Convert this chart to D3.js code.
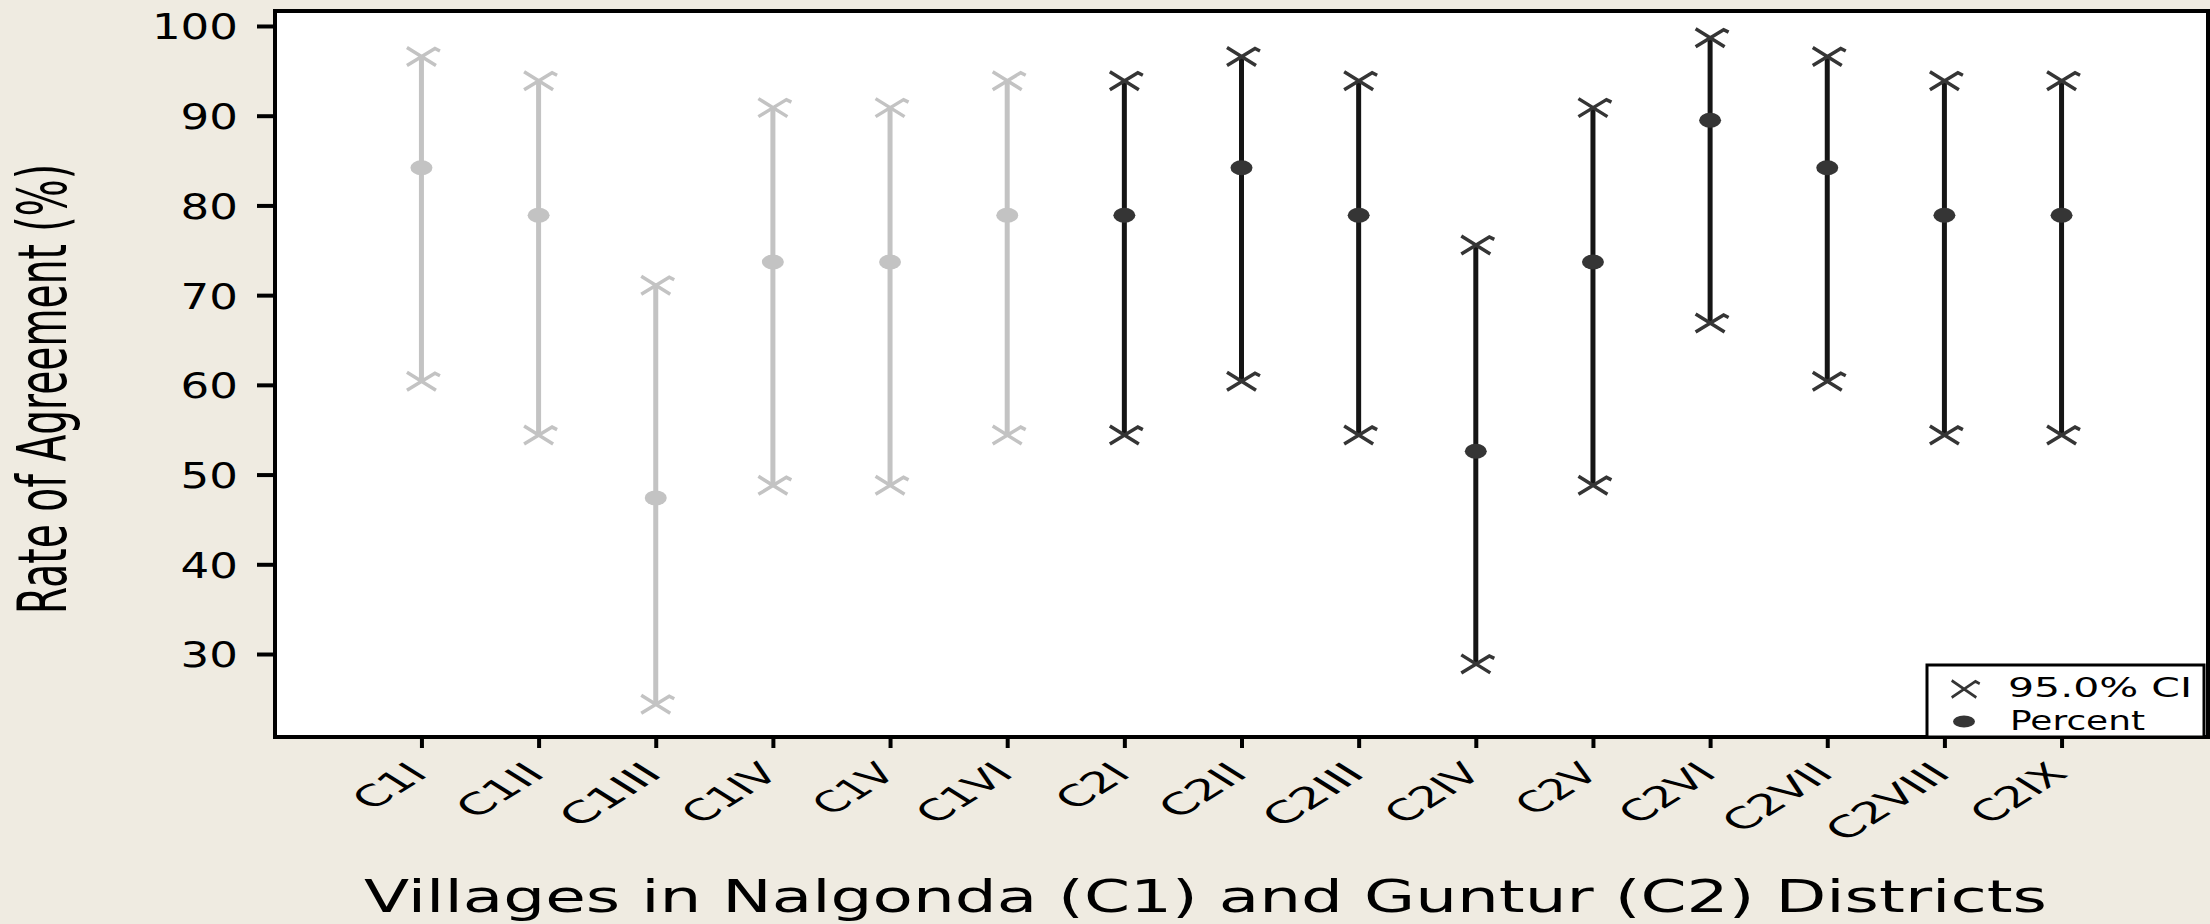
<!DOCTYPE html>
<html>
<head>
<meta charset="utf-8">
<script src="https://cdn.jsdelivr.net/npm/d3@7"></script>
<style>
    body { margin: 0; background: #efebe1; }
    svg { display: block; }
    text { font-family: 'DejaVu Sans', Verdana, sans-serif; fill: #000; }
</style>
</head>
<body>
<div id="chart-holder"></div>
<script>
// Interval plot - rate of agreement per village

var villages = ['C1I','C1II','C1III','C1IV','C1V','C1VI','C2I','C2II','C2III','C2IV','C2V','C2VI','C2VII','C2VIII','C2IX'];
var districts = ['C1','C1','C1','C1','C1','C1','C2','C2','C2','C2','C2','C2','C2','C2','C2'];
var percent = [84.2, 78.9, 47.4, 73.7, 73.7, 78.9, 78.9, 84.2, 78.9, 52.6, 73.7, 89.5, 84.2, 78.9, 78.9];
var ciLow = [60.4, 54.4, 24.4, 48.8, 48.8, 54.4, 54.4, 60.4, 54.4, 28.9, 48.8, 66.9, 60.4, 54.4, 54.4];
var ciHigh = [96.6, 93.9, 71.1, 90.9, 90.9, 93.9, 93.9, 96.6, 93.9, 75.6, 90.9, 98.7, 96.6, 93.9, 93.9];
var yTicks = [30, 40, 50, 60, 70, 80, 90, 100];
var legendLabels = ['95.0% CI', 'Percent'];
var xTitle = 'Villages in Nalgonda (C1) and Guntur (C2) Districts';
var yTitle = 'Rate of Agreement (%)';

const dims = { width: 2210, height: 924 };
const plot = { left: 275, right: 2208, top: 11, bottom: 737 };

// line colour and marker colour for the two districts
const lineColor = { C1: '#c3c3c3', C2: '#151515' };
const markColor = { C1: '#c3c3c3', C2: '#353535' };

// Minitab style cross with the little hook on the upper arm
const crossPath = 'M-14.5,-9L14.5,9M-14.5,9L13.5,-8L18.5,-5.5';

// Verdana-like advance widths (em) so the slanted labels get the original's wide I
const charW = { C: 0.698, '1': 0.636, '2': 0.636, I: 0.421, V: 0.684, X: 0.685 };
const labelSize = 29;

var data = villages.map((v, i) => ({
    village: v,
    district: districts[i],
    pct: percent[i],
    lo: ciLow[i],
    hi: ciHigh[i]
}));

var svg = d3.select('#chart-holder')
    .append('svg')
    .attr('width', dims.width)
    .attr('height', dims.height);

var x = d3.scalePoint()
    .domain(villages)
    .range([plot.left, plot.right])
    .padding(1.25);

var y = d3.scaleLinear()
    .domain([20.75, 101.67])
    .range([plot.bottom, plot.top]);

// plot area
svg.append('rect')
    .attr('x', plot.left)
    .attr('y', plot.top)
    .attr('width', plot.right - plot.left)
    .attr('height', plot.bottom - plot.top)
    .attr('fill', '#fff');

var marks = svg.append('g');

marks.selectAll('.ci-line')
    .data(data)
    .join('line')
    .classed('ci-line', true)
    .attr('x1', d => x(d.village))
    .attr('x2', d => x(d.village))
    .attr('y1', d => y(d.lo))
    .attr('y2', d => y(d.hi))
    .attr('stroke', d => lineColor[d.district])
    .attr('stroke-width', 5);

var ends = [];
data.forEach(d => {
    ends.push({ village: d.village, district: d.district, v: d.lo });
    ends.push({ village: d.village, district: d.district, v: d.hi });
});

marks.selectAll('.ci-end')
    .data(ends)
    .join('path')
    .classed('ci-end', true)
    .attr('d', crossPath)
    .attr('transform', d => `translate(${x(d.village)},${y(d.v)})`)
    .attr('fill', 'none')
    .attr('stroke', d => markColor[d.district])
    .attr('stroke-width', 3.5);

marks.selectAll('.pct-dot')
    .data(data)
    .join('ellipse')
    .classed('pct-dot', true)
    .attr('cx', d => x(d.village))
    .attr('cy', d => y(d.pct))
    .attr('rx', 11)
    .attr('ry', 7.5)
    .attr('fill', d => markColor[d.district]);

// frame
svg.append('rect')
    .attr('x', plot.left)
    .attr('y', plot.top)
    .attr('width', plot.right - plot.left)
    .attr('height', plot.bottom - plot.top)
    .attr('fill', 'none')
    .attr('stroke', '#000')
    .attr('stroke-width', 4);

// y axis
var yAxisG = svg.append('g')
    .attr('transform', `translate(${plot.left},0)`)
    .call(d3.axisLeft(y).tickValues(yTicks).tickSize(18).tickPadding(0));

yAxisG.select('.domain').remove();
yAxisG.selectAll('.tick line').attr('stroke', '#000').attr('stroke-width', 4);
yAxisG.selectAll('.tick text')
    .attr('x', -37)
    .attr('dy', '0.36em')
    .attr('font-size', 36)
    .attr('textLength', d => String(d).length * 28.7)
    .attr('lengthAdjust', 'spacingAndGlyphs');

// x axis - labels slanted and stretched sideways like the original
var xAxisG = svg.append('g')
    .attr('transform', `translate(0,${plot.bottom})`)
    .call(d3.axisBottom(x).tickSize(11).tickPadding(0));

xAxisG.select('.domain').remove();
xAxisG.selectAll('.tick line').attr('stroke', '#000').attr('stroke-width', 4);
xAxisG.selectAll('.tick text')
    .attr('y', 0)
    .attr('dy', '0.35em')
    .attr('font-size', labelSize)
    .attr('text-anchor', 'end')
    .attr('textLength', d => d3.sum(d.split(''), c => charW[c]) * labelSize)
    .attr('lengthAdjust', 'spacingAndGlyphs')
    .attr('transform', 'translate(-4,31) scale(1.6,1) rotate(-45)');

// axis titles
svg.append('text')
    .attr('x', 364)
    .attr('y', 912)
    .attr('font-size', 44)
    .attr('textLength', 1683)
    .attr('lengthAdjust', 'spacingAndGlyphs')
    .text(xTitle);

svg.append('text')
    .attr('text-anchor', 'middle')
    .attr('font-size', 39)
    .attr('textLength', 450)
    .attr('lengthAdjust', 'spacingAndGlyphs')
    .attr('transform', 'translate(66,389) scale(1.75,1) rotate(-90)')
    .text(yTitle);

// legend
var legendG = svg.append('g');

legendG.append('rect')
    .attr('x', 1927)
    .attr('y', 665)
    .attr('width', 2204 - 1927)
    .attr('height', plot.bottom - 665)
    .attr('fill', '#fff')
    .attr('stroke', '#000')
    .attr('stroke-width', 3);

legendG.append('path')
    .attr('d', crossPath)
    .attr('transform', 'translate(1964,689) scale(0.85,0.95)')
    .attr('fill', 'none')
    .attr('stroke', '#353535')
    .attr('stroke-width', 3);

legendG.append('ellipse')
    .attr('cx', 1964)
    .attr('cy', 721.5)
    .attr('rx', 11)
    .attr('ry', 6)
    .attr('fill', '#353535');

legendG.selectAll('.leg-text')
    .data(legendLabels)
    .join('text')
    .classed('leg-text', true)
    .attr('x', (d, i) => i == 0 ? 2008 : 2010)
    .attr('y', (d, i) => i == 0 ? 697 : 730)
    .attr('font-size', 26)
    .attr('textLength', (d, i) => i == 0 ? 184 : 135)
    .attr('lengthAdjust', 'spacingAndGlyphs')
    .text(d => d);
</script>
</body>
</html>
